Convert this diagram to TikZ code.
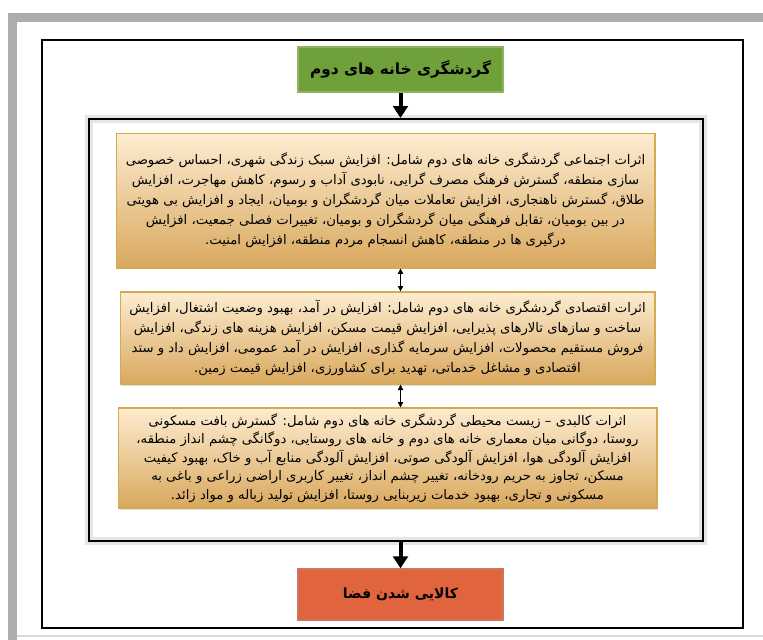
\documentclass[tikz,border=0pt]{standalone}
\usepackage{fontspec}
\usepackage{xcolor}
\usepackage{tikz}
\usetikzlibrary{arrows.meta, positioning, shadows}
\newfontfamily\arabicfont[Script=Arabic]{DejaVu Sans}
\TeXXeTstate=1
\newcommand{\rl}[1]{\beginR #1\endR}
\definecolor{titlegreen}{RGB}{112, 160, 58}
\definecolor{titlegreenline}{RGB}{140, 180, 100}
\definecolor{resultred}{RGB}{224, 101, 62}
\definecolor{resultredline}{RGB}{200, 120, 95}
\definecolor{tanlight}{RGB}{253, 236, 208}
\definecolor{tandark}{RGB}{217, 168, 94}
\definecolor{tanline}{RGB}{212, 170, 82}

\begin{document}
\begin{tikzpicture}[x=0.75pt, y=-0.75pt,
    frame/.style={draw, line width=1.5pt, inner sep=0pt},
    headbox/.style={draw=titlegreenline, fill=titlegreen, line width=1pt, minimum width=153.75pt, minimum height=33.75pt,
        font=\arabicfont\bfseries\fontsize{11.5}{14}\selectfont},
    effectbox/.style={draw=tanline, line width=1pt, top color=tanlight, bottom color=tandark, align=center, inner sep=0pt,
        font=\arabicfont\fontsize{9.9}{15}\selectfont,
        drop shadow={opacity=0.25, shadow xshift=1.2pt, shadow yshift=-1.2pt}},
    bigarrow/.style={-{Triangle[width=11pt, length=9pt]}, line width=3pt},
    twoway/.style={{Triangle[width=4pt, length=4pt]}-{Triangle[width=4pt, length=4pt]}, line width=0.6pt}]
    \useasboundingbox (0, 0) rectangle (763, 639);

    % قاب بیرونی
    \draw[black!15, line width=1pt] (16, 636) -- (770, 636);
    \draw[black!32, line width=7pt] (12.5, 660) -- (12.5, 17.5) -- (780, 17.5);
    \node[frame, minimum width=525.75pt, minimum height=441pt] (outer) at (392.5, 334) {};
    \node[frame, minimum width=460.5pt, minimum height=316.5pt, preaction={draw=black!10, line width=6pt}] (inner) at (396, 330) {};

    % گردشگری خانه های دوم
    \node[headbox] (tour) at (400.5, 69.5) {\rl{گردشگری خانه های دوم}};

    % اثرات
    \node[effectbox, minimum width=404pt, minimum height=101pt] (social) at (385.5, 200.5) {%
        \rl{اثرات اجتماعی گردشگری خانه های دوم شامل: افزایش سبک زندگی شهری، احساس خصوصی}\\
        \rl{سازی منطقه، گسترش فرهنگ مصرف گرایی، نابودی آداب و رسوم، کاهش مهاجرت، افزایش}\\
        \rl{طلاق، گسترش ناهنجاری، افزایش تعاملات میان گردشگران و بومیان، ایجاد و افزایش بی هویتی}\\
        \rl{در بین بومیان، تقابل فرهنگی میان گردشگران و بومیان، تغییرات فصلی جمعیت، افزایش}\\
        \rl{درگیری ها در منطقه، کاهش انسجام مردم منطقه، افزایش امنیت.}};
    \node[effectbox, minimum width=401pt, minimum height=69pt] (economic) at (387.5, 338) {%
        \rl{اثرات اقتصادی گردشگری خانه های دوم شامل: افزایش در آمد، بهبود وضعیت اشتغال، افزایش}\\
        \rl{ساخت و سازهای تالارهای پذیرایی، افزایش قیمت مسکن، افزایش هزینه های زندگی، افزایش}\\
        \rl{فروش مستقیم محصولات، افزایش سرمایه گذاری، افزایش در آمد عمومی، افزایش داد و ستد}\\
        \rl{اقتصادی و مشاغل خدماتی، تهدید برای کشاورزی، افزایش قیمت زمین.}};
    \node[effectbox, minimum width=404pt, minimum height=75pt, font=\arabicfont\fontsize{9.9}{13.8}\selectfont] (physical) at (387.5, 458) {%
        \rl{اثرات کالبدی – زیست محیطی گردشگری خانه های دوم شامل: گسترش بافت مسکونی}\\
        \rl{روستا، دوگانی میان معماری خانه های دوم و خانه های روستایی، دوگانگی چشم انداز منطقه،}\\
        \rl{افزایش آلودگی هوا، افزایش آلودگی صوتی، افزایش آلودگی منابع آب و خاک، بهبود کیفیت}\\
        \rl{مسکن، تجاوز به حریم رودخانه، تغییر چشم انداز، تغییر کاربری اراضی زراعی و باغی به}\\
        \rl{مسکونی و تجاری، بهبود خدمات زیربنایی روستا، افزایش تولید زباله و مواد زائد.}};

    % کالایی شدن فضا
    \node[headbox, draw=resultredline, fill=resultred, minimum height=38.25pt, font=\arabicfont\bfseries\fontsize{10.5}{13}\selectfont] (space) at (400.5, 594.5) {\rl{کالایی شدن فضا}};

    % پیکان ها
    \draw[bigarrow] (tour.south) -- (tour.south |- inner.north);
    \draw[twoway] (social.south -| tour.south) -- (economic.north -| tour.south);
    \draw[twoway] (economic.south -| tour.south) -- (physical.north -| tour.south);
    \draw[bigarrow] (inner.south -| space.north) -- (space.north);
\end{tikzpicture}
\end{document}
